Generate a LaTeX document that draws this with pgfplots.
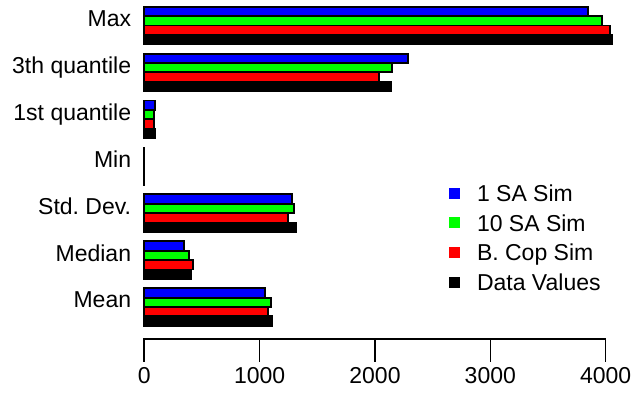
\documentclass[border=0pt]{standalone}
\usepackage{fontspec}
\setmainfont{Liberation Sans}
\usepackage{pgfplots}
\usepackage{pgfplotstable}
\pgfplotsset{compat=1.18}
\frenchspacing

% one row per statistic, bottom (Mean) to top (Max)
\pgfplotstableread{
g  sa1   sa10  bcop  data
0  1046  1098  1075  1104
1  341   385   425   407
2  1283  1298  1248  1312
3  2     2     2     2
4  93    87    84    90
5  2283  2147  2032  2141
6  3849  3970  4037  4054
}\stats

\newcommand{\lbl}{\fontsize{23}{27}\selectfont}
% legend key: a filled square, with room reserved up to the text
\newcommand{\sq}[1]{\fill[#1, draw=none] (0pt,2.7pt) rectangle (11pt,13.7pt); \path[draw=none] (0pt,0pt) (28pt,0pt);}

\begin{document}
\begin{tikzpicture}
\begin{axis}[
  scale only axis,
  width=488.7pt, height=339pt,
  xmin=0, xmax=4237,
  ymin=-0.682, ymax=6.543,
  clip=false,
  axis x line*=bottom,
  axis y line*=left,
  axis line style={draw=none},
  xbar, bar width=0.2,
  xtick={0,1000,2000,3000,4000},
  ytick={0.155,1.155,2.155,3.155,4.155,5.155,6.155},
  yticklabels={Mean,Median,Std. Dev.,Min,1st quantile,3th quantile,Max},
  tick align=outside,
  major tick length=23pt,
  xtick style={line width=1.6pt, black},
  ytick style={draw=none},
  /pgf/number format/assume math mode=true,
  /pgf/number format/1000 sep={},
  scaled x ticks=false,
  x tick label style={font=\lbl, anchor=north, inner sep=0pt, yshift=-5pt},
  y tick label style={font=\lbl, anchor=base east, inner sep=0pt, xshift=10pt, yshift=-8.2pt},
  legend style={
    draw=none, fill=none, inner sep=0pt, outer sep=0pt,
    at={(rel axis cs:0.6235,0.4543)}, anchor=north west,
    font=\lbl, row sep=7.7pt, column sep=0pt,
    nodes={inner sep=0pt, text height=16.5pt, text depth=5.5pt},
    cells={anchor=base west},
  },
  every axis plot/.append style={draw=black, line width=1.8pt},
]
\addplot[fill=blue, bar shift=0.3, legend image code/.code={\sq{blue}}]
  table[x=sa1, y=g] {\stats};
\addplot[fill=green, bar shift=0.1, legend image code/.code={\sq{green}}]
  table[x=sa10, y=g] {\stats};
\addplot[fill=red, bar shift=-0.1, legend image code/.code={\sq{red}}]
  table[x=bcop, y=g] {\stats};
\addplot[fill=black, bar shift=-0.3, legend image code/.code={\sq{black}}]
  table[x=data, y=g] {\stats};
\legend{1 SA Sim, 10 SA Sim, B. Cop Sim, Data Values}
% axis line spans the tick range only
\draw[line width=1.6pt, line cap=rect] (axis cs:0,-0.682) -- (axis cs:4000,-0.682);
% picture frame
\path (rel axis cs:0,0) ++(-144.3pt,-60pt) rectangle (rel axis cs:1,1);
\end{axis}
\end{tikzpicture}
\end{document}
